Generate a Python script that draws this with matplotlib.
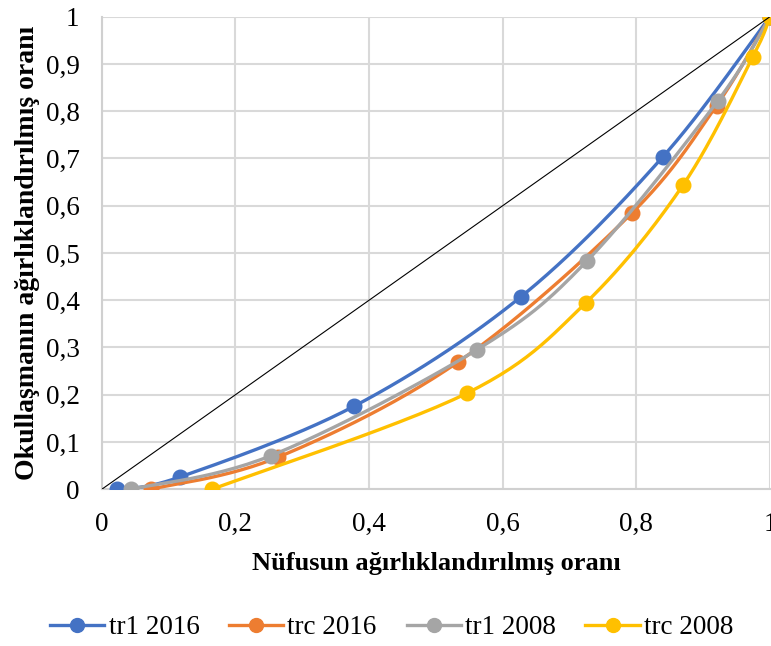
import numpy as np
import matplotlib.pyplot as plt

plt.rcParams['font.family'] = ['Liberation Serif', 'DejaVu Serif']

# Lorenz-type curves: population share (x) vs. weighted enrolment share (y)
tr1_2016_x = [0.023, 0.117, 0.378, 0.627, 0.840, 1.0]
tr1_2016_y = [0.0, 0.026, 0.176, 0.407, 0.704, 1.0]

trc_2016_x = [0.073, 0.264, 0.533, 0.793, 0.920, 1.0]
trc_2016_y = [0.0, 0.068, 0.269, 0.584, 0.812, 1.0]

tr1_2008_x = [0.043, 0.253, 0.561, 0.726, 0.922, 1.0]
tr1_2008_y = [0.0, 0.071, 0.295, 0.483, 0.822, 1.0]

trc_2008_x = [0.165, 0.546, 0.724, 0.870, 0.974, 1.0]
trc_2008_y = [0.0, 0.203, 0.394, 0.644, 0.914, 1.0]

series = [
    ("tr1 2016", tr1_2016_x, tr1_2016_y, "#4472C4"),
    ("trc 2016", trc_2016_x, trc_2016_y, "#ED7D31"),
    ("tr1 2008", tr1_2008_x, tr1_2008_y, "#A5A5A5"),
    ("trc 2008", trc_2008_x, trc_2008_y, "#FFC000"),
]


def smooth(xs, ys, n=30):
    # cardinal spline through the points, drawn as cubic bezier segments
    p = np.column_stack([xs, ys]).astype(float)
    p = np.vstack([p[0], p, p[-1]])
    out = []
    t = np.linspace(0, 1, n)[:, None]
    for i in range(1, len(p) - 2):
        p0, p1, p2, p3 = p[i - 1], p[i], p[i + 1], p[i + 2]
        c1 = p1 + (p2 - p0) / 6
        c2 = p2 - (p3 - p1) / 6
        seg = ((1 - t) ** 3) * p1 + 3 * ((1 - t) ** 2) * t * c1 \
            + 3 * (1 - t) * t ** 2 * c2 + t ** 3 * p2
        out.append(seg)
    out = np.vstack(out)
    return out[:, 0], out[:, 1]


fig = plt.figure(figsize=(7.71, 6.46), dpi=100)
ax = fig.add_axes([0.132, 0.2426, 0.8667, 0.7316])

for name, xs, ys, c in series:
    sx, sy = smooth(xs, ys)
    ax.plot(sx, sy, color=c, lw=2.4, solid_capstyle='round', zorder=3)
    ax.plot(xs, ys, 'o', color=c, ms=10.5, zorder=3)
    ax.plot([], [], '-o', color=c, lw=2.4, ms=10, label=name)

ax.plot([0, 1], [0, 1], color='black', lw=0.8, zorder=4)

ax.set_xlim(0, 1)
ax.set_ylim(0, 1)
ax.set_xticks(np.arange(0, 1.01, 0.2))
ax.set_yticks(np.arange(0, 1.01, 0.1))
fmt = lambda v: "0" if v == 0 else ("1" if v == 1 else f"{v:.1f}".replace(".", ","))
ax.set_xticklabels([fmt(round(v, 1)) for v in np.arange(0, 1.01, 0.2)])
ax.set_yticklabels([fmt(round(v, 1)) for v in np.arange(0, 1.01, 0.1)])
ax.tick_params(length=0, labelsize=19.5)
ax.tick_params(axis='x', pad=16)
ax.tick_params(axis='y', pad=16)
ax.grid(True, color='#D9D9D9', lw=1.5)
ax.set_axisbelow(True)
for s in ['top', 'right']:
    ax.spines[s].set_visible(False)
for s in ['left', 'bottom']:
    ax.spines[s].set_color('#D0D0D0')
    ax.spines[s].set_linewidth(1.5)

ax.set_xlabel("Nüfusun ağırlıklandırılmış oranı", fontsize=19,
              fontweight='bold', labelpad=11)
ax.set_ylabel("Okullaşmanın ağırlıklandırılmış oranı", fontsize=20,
              fontweight='bold', labelpad=4)

fig.legend(loc='center', bbox_to_anchor=(0.508, 0.028), ncol=4, frameon=False,
           fontsize=19.5, handlelength=2.0, columnspacing=1.1,
           handletextpad=0.15)

fig.savefig("out.png", dpi=100)
